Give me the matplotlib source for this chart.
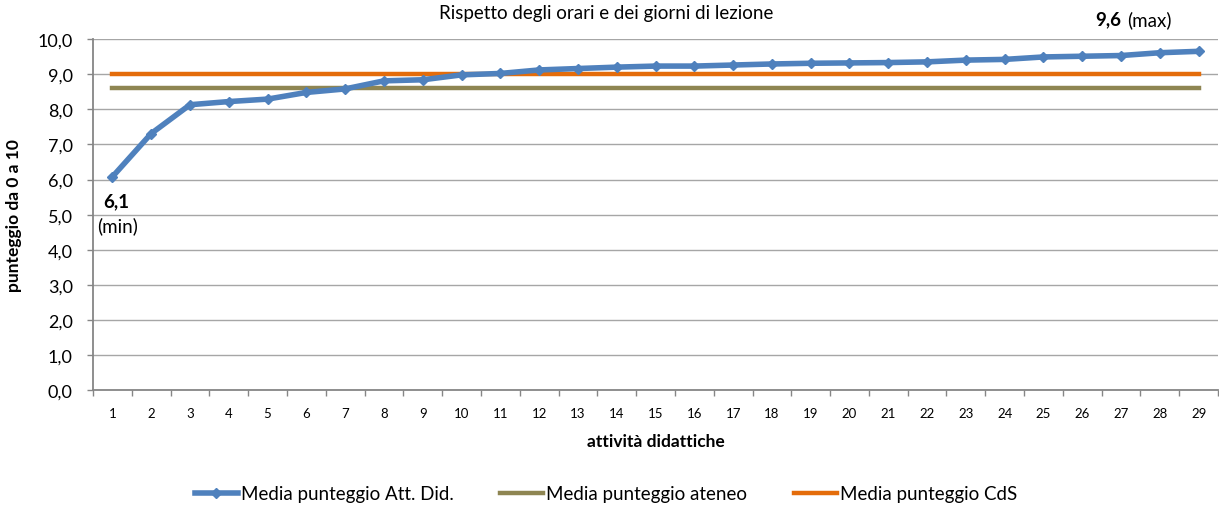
import numpy as np
import matplotlib
matplotlib.use("Agg")
import matplotlib.pyplot as plt
import matplotlib as mpl

mpl.rcParams['font.family'] = ['Lato', 'DejaVu Sans']

# data
attivita = list(range(1, 30))
media_att = [6.08, 7.31, 8.13, 8.22, 8.29, 8.48, 8.58, 8.81, 8.84, 8.98,
             9.02, 9.12, 9.16, 9.2, 9.23, 9.23, 9.26, 9.29, 9.31, 9.32,
             9.33, 9.35, 9.4, 9.42, 9.49, 9.51, 9.53, 9.61, 9.65]
media_ateneo = [8.6] * 29
media_cds = [9.0] * 29
yticks = np.arange(0, 10.01, 1.0)
ytick_labels = [("%.1f" % v).replace(".", ",") for v in yticks]

fig = plt.figure(figsize=(12.19, 5.06), dpi=100)
ax = fig.add_axes([0.0763, 0.2265, 0.9229, 0.6944])

ax.plot(attivita, media_att, color="#4F81BD", lw=4, marker="D", markersize=5.5,
        label="Media punteggio Att. Did.", zorder=4, solid_joinstyle="round")
ax.plot(attivita, media_ateneo, color="#8E8552", lw=3.2,
        label="Media punteggio ateneo", zorder=3)
ax.plot(attivita, media_cds, color="#E46C0A", lw=3.2,
        label="Media punteggio CdS", zorder=3)

ax.set_xlim(0.5, 29.5)
ax.set_ylim(0, 10)
ax.set_yticks(yticks)
ax.set_yticklabels(ytick_labels, fontsize=13)
ax.set_xticks(attivita)
ax.set_xticklabels([str(a) for a in attivita], fontsize=9.5)
ax.set_xticks(np.arange(0.5, 29.6, 1), minor=True)
ax.tick_params(axis="x", which="major", length=0, pad=12)
ax.tick_params(axis="x", which="minor", length=4.5, width=1, color="#868686", direction="out")
ax.tick_params(axis="y", length=4.5, width=1, color="#868686", direction="out", pad=10)

ax.grid(axis="y", color="#A6A6A6", lw=1)
ax.set_axisbelow(True)
for s in ["top", "right"]:
    ax.spines[s].set_visible(False)
for s in ["left", "bottom"]:
    ax.spines[s].set_color("#868686")
    ax.spines[s].set_linewidth(1.3)

fig.text(0.497, 1 - 13 / 506, "Rispetto degli orari e dei giorni di lezione",
         fontsize=13.5, ha="center", va="center")
ax.set_xlabel("attività didattiche", fontsize=12.5, fontweight="bold")
ax.xaxis.set_label_coords(0.5, -0.12)
ax.set_ylabel("punteggio da 0 a 10", fontsize=12.5, fontweight="bold", labelpad=11)

ax.text(0.76, 5.41, "6,1", fontsize=13.5, fontweight="bold", ha="left", va="center")
ax.text(0.6, 4.7, "(min)", fontsize=13.5, ha="left", va="center")
ax.text(26.33, 10.57, "9,6", fontsize=13.5, fontweight="bold", ha="left", va="center", clip_on=False)
ax.text(27.16, 10.57, "(max)", fontsize=13.5, ha="left", va="center", clip_on=False)

handles, labels = ax.get_legend_handles_labels()
fig.legend(handles, labels, loc="center", bbox_to_anchor=(606 / 1219, 1 - 495 / 506),
           ncol=3, frameon=False, fontsize=13.5, handlelength=2.3,
           handletextpad=0.15, columnspacing=2.5, borderpad=0, borderaxespad=0)

fig.savefig("out.png", dpi=100)
